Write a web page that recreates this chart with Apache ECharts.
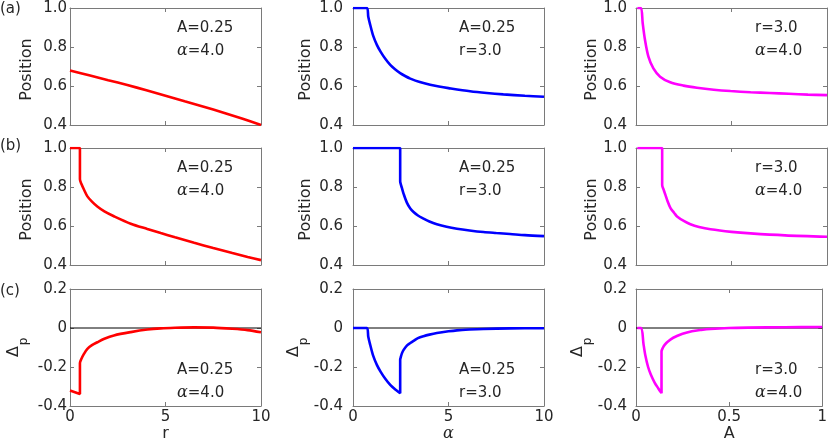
<!DOCTYPE html>
<html>
<head>
<meta charset="utf-8">
<script src="https://cdn.jsdelivr.net/npm/echarts@6/dist/echarts.min.js"></script>
<style>
html, body { margin: 0; padding: 0; background: #fff; }
#chart { width: 830px; height: 448px; }
</style>
</head>
<body>
<div id="chart"></div>
<script>
// tick values
var rTicks = [0, 5, 10];
var alphaTicks = [0, 5, 10];
var aTicks = [0, 0.5, 1];
var posTicks = [0.4, 0.6, 0.8, 1.0];
var deltaTicks = [-0.4, -0.2, 0, 0.2];

// row (a): Position
var rTop = [0, 1, 2, 3, 4, 5, 6, 7, 8, 9, 10];
var posTopR = [0.68, 0.655, 0.63, 0.605, 0.578, 0.55, 0.522, 0.494, 0.464, 0.433, 0.40];

var alphaTop = [0, 0.73, 0.8, 0.9, 1.05, 1.25, 1.45, 1.7, 1.95, 2.2, 2.47, 2.75, 3.0, 3.5, 4.04, 4.5, 5.0, 6.13, 7, 7.87, 9, 10];
var posTopAlpha = [1, 1, 0.955, 0.914, 0.86, 0.811, 0.775, 0.738, 0.708, 0.686, 0.666, 0.65, 0.638, 0.62, 0.606, 0.597, 0.589, 0.573, 0.564, 0.557, 0.55, 0.545];

var aTop = [0.007, 0.026, 0.035, 0.047, 0.065, 0.091, 0.126, 0.179, 0.249, 0.319, 0.407, 0.495, 0.6, 0.7, 0.8, 0.9, 1.0];
var posTopA = [1, 1, 0.923, 0.837, 0.751, 0.69, 0.648, 0.619, 0.602, 0.591, 0.581, 0.574, 0.568, 0.564, 0.56, 0.556, 0.553];

// row (b): Position
var rMid = [0, 0.52, 0.52, 0.6, 0.73, 0.91, 1.15, 1.43, 1.8, 2.3, 3.18, 4.05, 4.75, 5.5, 6.5, 7.5, 8.5, 9.3, 10];
var posMidR = [1, 1, 0.84, 0.815, 0.787, 0.752, 0.725, 0.70, 0.675, 0.65, 0.612, 0.585, 0.564, 0.542, 0.514, 0.487, 0.461, 0.441, 0.425];

var alphaMid = [0, 2.47, 2.47, 2.5, 2.56, 2.65, 2.82, 3.0, 3.17, 3.4, 3.69, 4.0, 4.39, 4.9, 5.44, 6.1, 6.83, 7.5, 8.22, 9, 10];
var posMidAlpha = [1, 1, 0.83, 0.815, 0.795, 0.765, 0.72, 0.69, 0.672, 0.654, 0.638, 0.623, 0.609, 0.596, 0.586, 0.577, 0.569, 0.564, 0.559, 0.553, 0.548];

var aMid = [0.007, 0.137, 0.137, 0.145, 0.154, 0.165, 0.18, 0.2, 0.215, 0.25, 0.285, 0.33, 0.39, 0.5, 0.6, 0.78, 1.0];
var posMidA = [1, 1, 0.81, 0.785, 0.76, 0.728, 0.693, 0.667, 0.649, 0.626, 0.609, 0.595, 0.583, 0.57, 0.562, 0.552, 0.545];

// row (c): Delta_p
var rBot = [0, 0.52, 0.52, 0.6, 0.73, 0.91, 1.15, 1.43, 1.8, 2.3, 3.18, 4.05, 4.75, 5.5, 6.5, 7.5, 8.5, 9.3, 10];
var deltaR = [-0.32, -0.338, -0.18, -0.158, -0.133, -0.107, -0.088, -0.073, -0.055, -0.038, -0.021, -0.008, -0.002, 0.001, 0.003, 0.002, -0.004, -0.011, -0.022];

var alphaBot = [0, 0.73, 0.8, 0.9, 1.05, 1.25, 1.45, 1.7, 1.95, 2.2, 2.47, 2.47, 2.5, 2.56, 2.65, 2.82, 3.0, 3.17, 3.4, 3.69, 4.0, 4.39, 5.0, 5.44, 6.1, 6.83, 8.22, 10];
var deltaAlpha = [0, 0, -0.045, -0.086, -0.14, -0.189, -0.225, -0.262, -0.292, -0.314, -0.334, -0.163, -0.15, -0.13, -0.112, -0.09, -0.077, -0.066, -0.052, -0.042, -0.034, -0.026, -0.017, -0.012, -0.008, -0.005, -0.002, -0.001];

var aBot = [0.007, 0.028, 0.04, 0.05, 0.065, 0.08, 0.1, 0.12, 0.137, 0.137, 0.145, 0.155, 0.17, 0.2, 0.25, 0.3, 0.35, 0.4, 0.5, 0.6, 0.8, 1.0];
var deltaA = [0, 0, -0.08, -0.14, -0.2, -0.24, -0.28, -0.31, -0.334, -0.12, -0.10, -0.085, -0.07, -0.05, -0.03, -0.017, -0.01, -0.005, 0, 0.002, 0.004, 0.005];

var lineColors = ['#ff0000', '#0000ff', '#ff00ff'];
var panelNames = ['(a)', '(b)', '(c)'];
var annotations = [
    ['A=0.25', '{i|α}=4.0'],
    ['A=0.25', 'r=3.0'],
    ['r=3.0', '{i|α}=4.0']
];
var xNames = ['r', '{i|α}', 'A'];

// layout
var font = 'DejaVu Sans';
var textColor = '#262626';
var boxColor = '#7a7a7a';
var colLeft = [70, 353, 636];
var rowTop = [8, 148, 289];
var plotW = 191, plotH = 117;
var yLabelMargin = [3, 10, 9];
var yNameX = [27, 306, 592];
var deltaX = [14, 294, 578];
var annotX = [177, 459, 755];
var italic = { i: { fontFamily: 'DejaVu Serif', fontStyle: 'italic', fontSize: 16, fill: textColor } };

var rows = [
    [[rTop, posTopR], [alphaTop, posTopAlpha], [aTop, posTopA]],
    [[rMid, posMidR], [alphaMid, posMidAlpha], [aMid, posMidA]],
    [[rBot, deltaR], [alphaBot, deltaAlpha], [aBot, deltaA]]
];
var xTickSets = [rTicks, alphaTicks, aTicks];

function zip(xs, ys) {
    return xs.map(function (x, i) { return [x, ys[i]]; });
}

function fmtY(v) {
    return Math.abs(v) < 1e-9 ? '0' : v.toFixed(1);
}

var grids = [], xAxes = [], yAxes = [], series = [], graphics = [];

for (var row = 0; row < 3; row++) {
    var yTicks = row < 2 ? posTicks : deltaTicks;
    for (var col = 0; col < 3; col++) {
        var g = grids.length;
        var xt = xTickSets[col];
        var xMin = xt[0], xMax = xt[xt.length - 1];
        grids.push({ left: colLeft[col], top: rowTop[row], width: plotW, height: plotH });

        var lineStyle = { color: boxColor, width: 1 };
        var xBase = {
            type: 'value', gridIndex: g,
            min: xMin, max: xMax, interval: xt[1] - xt[0],
            axisLine: { show: true, onZero: false, lineStyle: lineStyle },
            axisTick: { show: true, inside: true, length: 4, lineStyle: lineStyle },
            splitLine: { show: false }
        };
        var yBase = {
            type: 'value', gridIndex: g,
            min: yTicks[0], max: yTicks[yTicks.length - 1], interval: 0.2,
            axisLine: { show: true, onZero: false, lineStyle: lineStyle },
            axisTick: { show: true, inside: true, length: 4, lineStyle: lineStyle },
            splitLine: { show: false }
        };

        xAxes.push(Object.assign({}, xBase, {
            position: 'bottom',
            axisLabel: { show: row === 2, margin: 4, color: textColor, fontFamily: font, fontSize: 15 },
            name: row === 2 ? xNames[col] : '',
            nameLocation: 'middle', nameGap: 17,
            nameTextStyle: { color: textColor, fontFamily: font, fontSize: 16, rich: italic }
        }));
        xAxes.push(Object.assign({}, xBase, { position: 'top', axisLabel: { show: false } }));
        yAxes.push(Object.assign({}, yBase, {
            position: 'left',
            axisLabel: { show: true, margin: yLabelMargin[col], color: textColor, fontFamily: font, fontSize: 15, formatter: fmtY }
        }));
        yAxes.push(Object.assign({}, yBase, { position: 'right', axisLabel: { show: false } }));

        if (row === 2) {
            // zero reference line across the axis range
            series.push({
                type: 'line', xAxisIndex: 2 * g, yAxisIndex: 2 * g,
                data: [[xMin, 0], [xMax, 0]], showSymbol: false, symbol: 'none', z: 1, silent: true,
                lineStyle: { color: '#000', width: 1 }
            });
        }
        series.push({
            type: 'line', xAxisIndex: 2 * g, yAxisIndex: 2 * g,
            data: zip(rows[row][col][0], rows[row][col][1]),
            showSymbol: false, symbol: 'none', z: 3,
            smooth: 0.3,
            lineStyle: { color: lineColors[col], width: 2.6 },
            itemStyle: { color: lineColors[col] },
            emphasis: { disabled: true }
        });

        // annotation text
        var ann = annotations[col];
        var dy = row < 2 ? [20, 43] : [81, 104];
        for (var k = 0; k < 2; k++) {
            graphics.push({
                type: 'text', x: annotX[col], y: rowTop[row] + dy[k],
                style: { text: ann[k], fill: textColor, fontFamily: font, fontSize: 15, verticalAlign: 'middle', rich: italic }
            });
        }

        // y axis label
        var cy = rowTop[row] + plotH / 2;
        if (row < 2) {
            graphics.push({
                type: 'text', x: yNameX[col], y: cy + 3, rotation: Math.PI / 2,
                style: { text: 'Position', fill: textColor, fontFamily: font, fontSize: 16, align: 'center', verticalAlign: 'middle' }
            });
        } else {
            graphics.push({
                type: 'text', x: deltaX[col], y: cy + 4, rotation: Math.PI / 2,
                style: { text: 'Δ', fill: textColor, fontFamily: font, fontSize: 16, align: 'center', verticalAlign: 'middle' }
            });
            graphics.push({
                type: 'text', x: deltaX[col] + 10, y: cy - 6, rotation: Math.PI / 2,
                style: { text: 'p', fill: textColor, fontFamily: font, fontSize: 12, align: 'center', verticalAlign: 'middle' }
            });
        }
    }
    graphics.push({
        type: 'text', x: 0, y: rowTop[row] + [1, -2, 2][row],
        style: { text: panelNames[row], fill: textColor, fontFamily: font, fontSize: 15, verticalAlign: 'middle' }
    });
}

var chart = echarts.init(document.getElementById('chart'));
chart.setOption({
    animation: false,
    backgroundColor: '#fff',
    grid: grids,
    xAxis: xAxes,
    yAxis: yAxes,
    series: series,
    graphic: graphics
});
</script>
</body>
</html>
